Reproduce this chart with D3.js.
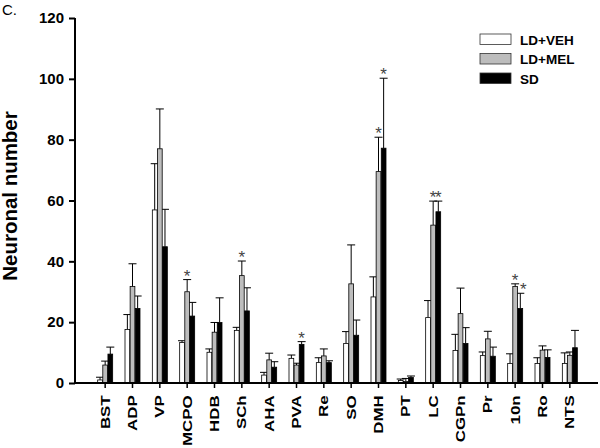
<!DOCTYPE html>
<html lang="en">
  <head>
    <meta charset="utf-8">
    <script type="text/javascript" src="https://cdn.jsdelivr.net/npm/d3@7/dist/d3.min.js"></script>
    <style>
      body{margin:0;background:#fff;}
      text{font-family:"Liberation Sans",Arial,sans-serif;}
    </style>
  </head>
  <body>
    <svg id="chart"></svg>
  </body>
  <script type="text/javascript">

    var width = 600;
    var height = 448;

    // brain regions
    var categories = ['BST','ADP','VP','MCPO','HDB','SCh','AHA','PVA','Re','SO','DMH','PT','LC','CGPn','Pr','10n','Ro','NTS'];
    var seriesNames = ['LD+VEH','LD+MEL','SD'];

    // means and (upper) error per group
    var vehMean = [1.0,17.6,56.9,13.3,10.1,17.3,2.6,8.1,6.7,13.0,28.3,0.8,21.5,10.7,9.0,6.4,6.4,6.4];
    var vehErr  = [0.9,4.9,15.2,0.6,1.1,1.0,0.9,1.1,1.6,3.9,6.6,0.5,5.6,5.3,1.2,3.2,1.9,3.5];
    var melMean = [5.9,31.7,77.0,30.0,16.7,35.3,7.6,5.9,8.9,32.6,69.5,0.5,51.9,22.8,14.5,31.7,10.8,9.1];
    var melErr  = [1.3,7.5,13.1,4.0,3.2,4.8,2.2,0.6,2.3,12.8,11.3,1.0,7.9,8.4,2.5,0.9,1.4,1.1];
    var sdMean  = [9.5,24.5,44.8,22.0,19.9,23.7,5.2,12.7,6.7,15.7,77.2,1.8,56.3,13.0,8.8,24.5,8.4,11.6];
    var sdErr   = [2.3,4.1,12.3,4.5,8.1,7.6,1.8,0.9,0.6,5.0,23.0,0.5,3.5,5.2,3.0,5.0,2.5,5.7];

    // significance marks: [region, series, x nudge]
    var stars = [['MCPO','LD+MEL',0],['SCh','LD+MEL',0],['PVA','SD',0],['DMH','LD+MEL',0],['DMH','SD',0],
                 ['LC','LD+MEL',0],['LC','SD',0],['10n','LD+MEL',0],['10n','SD',3]];

    var yTicks = [0,20,40,60,80,100,120];

    var fills = {'LD+VEH':'#ffffff','LD+MEL':'#bdbdbd','SD':'#000000'};

    var means = {'LD+VEH':vehMean,'LD+MEL':melMean,'SD':sdMean};
    var errs = {'LD+VEH':vehErr,'LD+MEL':melErr,'SD':sdErr};

    var data = [];
    categories.forEach(function(c,i){
      seriesNames.forEach(function(s){
        data.push({cat:c,series:s,mean:means[s][i],err:errs[s][i]});
      });
    });

    var svg = d3.select('#chart').attr('width',width).attr('height',height);

    var x0 = d3.scaleBand().domain(categories).range([91.5,583.5]);
    var x1 = d3.scaleBand().domain(seriesNames).range([-7.5,7.5]).paddingInner(0.08);
    var y = d3.scaleLinear().domain([0,120]).range([383,18]);

    var barX = function(d){ return x0(d.cat)+x0.bandwidth()/2+x1(d.series); };
    var barC = function(d){ return barX(d)+x1.bandwidth()/2; };
    var find = function(s){
      return data.filter(function(e){ return e.cat==s[0] && e.series==s[1]; })[0];
    };

    // error bars (upper only)
    var eg = svg.append('g').attr('stroke','#000').attr('stroke-width',1);
    eg.selectAll('line.v').data(data).enter()
      .append('line').attr('class','v')
      .attr('x1',barC).attr('x2',barC)
      .attr('y1',function(d){ return y(d.mean); })
      .attr('y2',function(d){ return y(d.mean+d.err); });
    eg.selectAll('line.cap').data(data).enter()
      .append('line').attr('class','cap')
      .attr('x1',function(d){ return barC(d)-4; })
      .attr('x2',function(d){ return barC(d)+4; })
      .attr('y1',function(d){ return y(d.mean+d.err); })
      .attr('y2',function(d){ return y(d.mean+d.err); });

    // bars
    svg.append('g').selectAll('rect').data(data).enter()
      .append('rect')
      .attr('x',barX)
      .attr('y',function(d){ return y(d.mean); })
      .attr('width',x1.bandwidth())
      .attr('height',function(d){ return y(0)-y(d.mean); })
      .attr('fill',function(d){ return fills[d.series]; })
      .attr('stroke','#000')
      .attr('stroke-width',0.8);

    // stars
    svg.append('g').selectAll('text').data(stars).enter()
      .append('text')
      .text('*')
      .attr('x',function(s){ return barC(find(s))+s[2]; })
      .attr('y',function(s){ var d = find(s); return y(d.mean+d.err)+2; })
      .attr('text-anchor','middle')
      .attr('font-size','17px')
      .attr('fill','#444');

    // y axis
    var yAxis = svg.append('g')
      .attr('transform','translate(75,0)')
      .call(d3.axisLeft(y).tickValues(yTicks).tickSize(6).tickPadding(5));
    yAxis.select('.domain').attr('stroke-width',2).attr('d','M0,383V18');
    yAxis.selectAll('.tick line').attr('stroke-width',2);
    yAxis.selectAll('.tick text')
      .attr('font-size','15px').attr('font-weight','bold').attr('fill','#000')
      .attr('font-family','"Liberation Sans",Arial,sans-serif');

    // x axis
    var xAxis = svg.append('g')
      .attr('transform','translate(0,383)')
      .call(d3.axisBottom(x0).tickSize(5).tickPadding(4));
    xAxis.select('.domain').attr('stroke-width',2).attr('d','M74,0H598');
    xAxis.selectAll('.tick line').attr('stroke-width',1.5);
    xAxis.selectAll('.tick text')
      .attr('font-size','13px').attr('font-weight','bold').attr('fill','#000')
      .attr('font-family','"Liberation Sans",Arial,sans-serif')
      .attr('transform','rotate(-90) scale(1.3,1)')
      .attr('text-anchor','end')
      .attr('x',-9.5).attr('y',0).attr('dy','0.35em');

    // axis title
    svg.append('text')
      .text('Neuronal number')
      .attr('transform','translate(17,196) rotate(-90) scale(1.05,1)')
      .attr('text-anchor','middle')
      .attr('font-size','19.5px')
      .attr('font-weight','bold');

    // panel letter
    svg.append('text').text('C.')
      .attr('x',2).attr('y',15)
      .attr('font-size','15px');

    // legend
    var lg = svg.append('g').attr('transform','translate(480,34)');
    lg.selectAll('rect').data(seriesNames).enter()
      .append('rect')
      .attr('x',0)
      .attr('y',function(d,i){ return i*19.5; })
      .attr('width',31).attr('height',10.5)
      .attr('fill',function(d){ return fills[d]; })
      .attr('stroke','#333').attr('stroke-width',0.8);
    lg.selectAll('text').data(seriesNames).enter()
      .append('text')
      .text(function(d){ return d; })
      .attr('x',40)
      .attr('y',function(d,i){ return i*19.5+10.5; })
      .attr('font-size','13.5px')
      .attr('font-weight','bold');

  </script>
</html>
